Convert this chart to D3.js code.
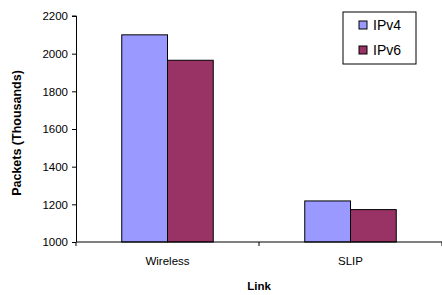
<!DOCTYPE html>
<html>
<head>
<meta charset="utf-8">
<script src="https://cdn.jsdelivr.net/npm/d3@7"></script>
<style>
  body { margin: 0; background: #fff; }
  text { font-family: "Liberation Sans", Arial, sans-serif; }
</style>
</head>
<body>
<div id="chart"></div>
<script>
const links = ["Wireless", "SLIP"]
const series = ["IPv4", "IPv6"]
const ipv4 = [2100, 1218]
const ipv6 = [1965, 1172]
const yTicks = [1000, 1200, 1400, 1600, 1800, 2000, 2200]
const colors = ["#9999ff", "#993366"]

const W = 442, H = 295
const margin = { top: 16, right: 0, bottom: 53, left: 76 }
const width = W - margin.left - margin.right,
    height = H - margin.top - margin.bottom

const svg = d3.select("#chart").append("svg")
    .attr("width", W).attr("height", H)
const g = svg.append("g").attr("transform", `translate(${margin.left},${margin.top})`)

const x = d3.scaleBand().domain(links).range([0, width])
const x1 = d3.scaleBand().domain(series).range([0, x.bandwidth() * 0.5]).paddingInner(0)
const y = d3.scaleLinear().domain([1000, 2200]).range([height, 0])

const rows = links.map((l, i) => ({ link: l, vals: [ipv4[i], ipv6[i]] }))

// bars
g.selectAll("g.grp").data(rows).join("g").attr("class", "grp")
    .attr("transform", d => `translate(${x(d.link) + x.bandwidth() * 0.25},0)`)
    .selectAll("rect").data(d => d.vals.map((v, j) => ({ key: series[j], v: v, j: j })))
    .join("rect")
    .attr("x", d => x1(d.key))
    .attr("width", x1.bandwidth())
    .attr("y", d => y(d.v))
    .attr("height", d => height - y(d.v))
    .attr("fill", d => colors[d.j])
    .attr("stroke", "#000").attr("stroke-width", 1)

// y axis
const yAxis = g.append("g").call(d3.axisLeft(y).tickValues(yTicks).tickSize(4).tickPadding(4).tickFormat(d3.format("d")))
yAxis.selectAll("text").attr("font-size", 11.5).attr("fill", "#000").style("font-family", "Liberation Sans, Arial")
yAxis.selectAll("line").attr("stroke", "#000")
yAxis.select(".domain").attr("stroke", "#000").attr("d", `M-4,0H0.5V${height}`)

// x axis
const xAxis = g.append("g").attr("transform", `translate(0,${height})`)
xAxis.append("line").attr("x1", 0).attr("x2", width).attr("stroke", "#000")
xAxis.selectAll("line.tk").data([0, x.step(), width]).join("line").attr("class", "tk")
    .attr("x1", d => d).attr("x2", d => d).attr("y1", 0).attr("y2", 4).attr("stroke", "#000")
xAxis.selectAll("text").data(links).join("text")
    .attr("x", d => x(d) + x.bandwidth() / 2).attr("y", 23)
    .attr("text-anchor", "middle").attr("font-size", 11.5).text(d => d)

// axis titles
svg.append("text").attr("x", margin.left + width / 2).attr("y", H - 5)
    .attr("text-anchor", "middle").attr("font-size", 11.5).attr("font-weight", "bold").text("Link")
svg.append("text").attr("transform", `translate(20.5,133) rotate(-90)`)
    .attr("text-anchor", "middle").attr("font-size", 12.5).attr("font-weight", "bold").text("Packets (Thousands)")

// legend
const lg = svg.append("g").attr("transform", "translate(343,12)")
lg.append("rect").attr("width", 73).attr("height", 52).attr("fill", "#fff").attr("stroke", "#000")
series.forEach((s, i) => {
    const row = lg.append("g").attr("transform", `translate(16,${13 + i * 25})`)
    row.append("rect").attr("x", 0).attr("y", -4).attr("width", 8).attr("height", 8)
        .attr("fill", colors[i]).attr("stroke", "#000")
    row.append("text").attr("x", 14).attr("y", 5).attr("font-size", 14).text(s)
})
</script>
</body>
</html>
